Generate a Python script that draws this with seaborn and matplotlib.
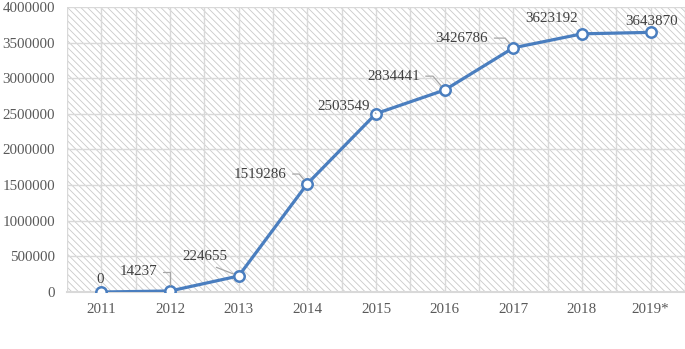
import numpy as np
import pandas as pd
import seaborn as sns
import matplotlib.pyplot as plt
from matplotlib.patches import Rectangle
from matplotlib.ticker import MultipleLocator, FuncFormatter

# values
years = ['2011', '2012', '2013', '2014', '2015', '2016', '2017', '2018', '2019*']
counts = [0, 14237, 224655, 1519286, 2503549, 2834441, 3426786, 3623192, 3643870]

# label placement (offset from point in pt) and leader style per label
label_dx = [-1, -23, -24, -34, -23, -37, -37, -22, 1]
label_dy = [9, 14, 14, 7, 5, 10, 7, 11, 8]
leader = [None, 'hook', 'straight', 'bend', 'bend', 'bend', 'bend', None, None]

sns.set_style('white')
plt.rcParams['font.family'] = ['Liberation Serif', 'DejaVu Serif']
plt.rcParams['hatch.linewidth'] = 0.6

line_col = '#4a7ebf'
grid_col = '#d9d9d9'
fs = 10.8

df = pd.DataFrame({'year': years, 'count': counts})

fig = plt.figure(figsize=(6.85, 3.49), dpi=100)
ax = fig.add_axes([0.0978, 0.1633, 0.9022, 0.8167])

# hatched plot area like the original
ax.add_patch(Rectangle((0, 0), 1, 1, transform=ax.transAxes, facecolor='white',
                       edgecolor='#c9c9c9', hatch='\\' * 5, lw=0, zorder=0))

sns.lineplot(data=df, x='year', y='count', ax=ax, color=line_col, lw=2.3,
             marker='o', markersize=7.5, markerfacecolor='white',
             markeredgecolor=line_col, markeredgewidth=1.8, zorder=5)

ax.set_xlim(-0.5, 8.5)
ax.set_ylim(0, 4000000)
ax.yaxis.set_major_locator(MultipleLocator(500000))
ax.yaxis.set_major_formatter(FuncFormatter(lambda v, p: f'{int(v)}'))
ax.set_xticks(np.arange(len(years)))
ax.set_xticks(np.arange(len(years) + 1) - 0.5, minor=True)
ax.grid(True, axis='y', color=grid_col, lw=1)
ax.grid(True, axis='x', which='both', color=grid_col, lw=1)
ax.set_axisbelow(True)

for s in ['top', 'right', 'left']:
    ax.spines[s].set_visible(False)
ax.spines['bottom'].set_color('#d9d9d9')
ax.spines['bottom'].set_linewidth(1.5)

ax.tick_params(axis='both', which='both', length=0, labelsize=fs, colors='#595959')
ax.tick_params(axis='y', pad=8.5)
ax.tick_params(axis='x', pad=8)
ax.set_xlabel('')
ax.set_ylabel('')

styles = {
    'hook': dict(relpos=(1, 0.5), connectionstyle='angle,angleA=0,angleB=90,rad=0'),
    'straight': dict(relpos=(0.5, 0), connectionstyle='arc3'),
    'bend': dict(relpos=(1, 0.5), connectionstyle='angle,angleA=0,angleB=-50,rad=0'),
}

for i, (yr, v) in enumerate(zip(years, counts)):
    props = None
    if leader[i]:
        props = dict(arrowstyle='-', color='#a6a6a6', lw=0.9, shrinkA=2, shrinkB=4,
                     **styles[leader[i]])
    ax.annotate(str(v), xy=(i, v), xytext=(label_dx[i], label_dy[i]),
                textcoords='offset points', ha='center', va='center',
                fontsize=fs, color='#404040', arrowprops=props, zorder=6)

plt.savefig('out.png', dpi=100)
